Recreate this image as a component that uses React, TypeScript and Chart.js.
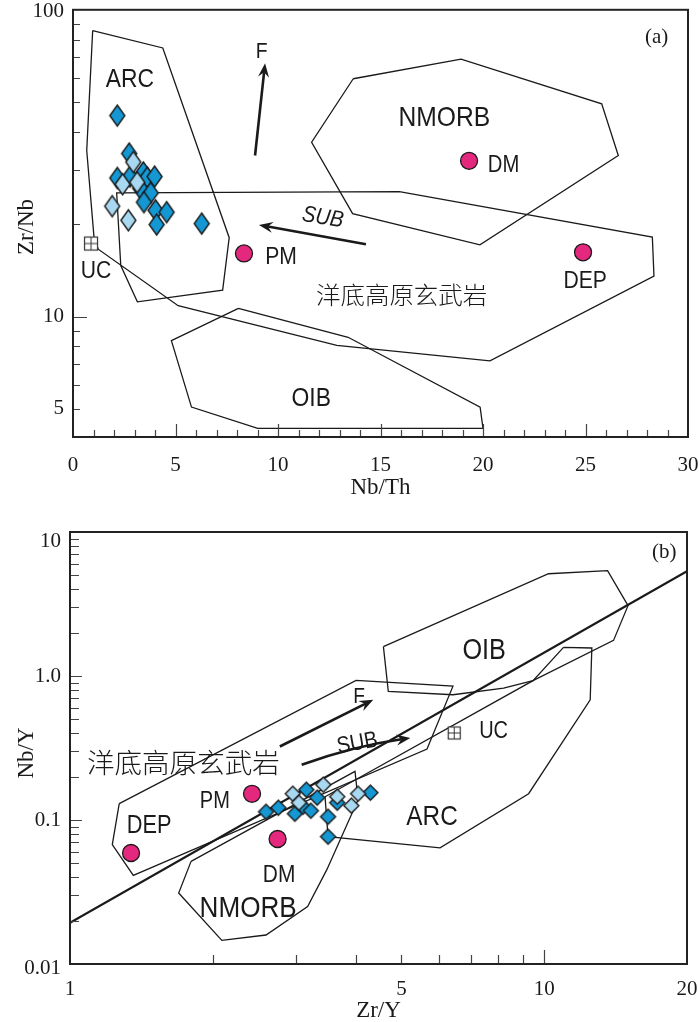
import React, { useEffect, useRef } from 'react';
import { Chart, registerables } from 'chart.js';
Chart.register(...registerables);

// ================= Panel (a): Zr/Nb vs Nb/Th =================
const aXTickLabels = [0, 5, 10, 15, 20, 25, 30];
const aYTickLabels = [5, 10, 100];
const aDarkNbTh = [2.16, 2.74, 2.16, 2.78, 3.43, 3.62, 3.98, 3.28, 3.79, 3.46, 4.03, 4.57, 4.08, 6.28];
const aDarkZrNb = [45.2, 34.0, 28.3, 28.6, 29.5, 28.4, 28.6, 26.2, 25.3, 23.6, 22.2, 21.9, 19.95, 20.1];
const aLightNbTh = [2.94, 2.42, 3.13, 1.91, 2.70];
const aLightZrNb = [31.9, 27.0, 27.4, 22.9, 20.6];
const aRefNbTh = [8.34, 19.32, 24.88]; // PM, DM, DEP
const aRefZrNb = [16.06, 32.2, 16.2];
const aUCNbTh = [0.88];
const aUCZrNb = [17.3];
const aFieldArcPlateau = [
  [0.96, 85.6], [4.38, 75.1], [7.62, 18.08], [7.30, 12.19], [3.14, 11.17], [2.33, 14.66],
  [2.13, 25.3], [15.92, 25.55], [28.26, 18.17], [28.34, 13.55], [20.34, 7.17], [12.87, 8.05],
  [5.13, 10.85], [1.23, 16.58], [1.02, 18.3], [0.67, 34.8],
];
const aFieldNMORB = [
  [13.67, 59.6], [18.93, 69.1], [25.79, 49.4], [26.6, 33.5], [19.85, 17.13], [13.64, 21.65], [11.64, 37.0],
];
const aFieldOIB = [
  [8.07, 10.63], [13.42, 8.56], [19.86, 5.07], [20.0, 4.32], [9.01, 4.32], [5.78, 5.07], [4.8, 8.35],
];
const aArrowF = [[8.88, 33.5], [9.37, 67.0]];
const aArrowSUB = [[14.29, 17.2], [9.07, 19.9]];
const aLabelText = ['ARC', 'F', 'NMORB', 'DM', 'SUB', 'PM', 'UC', 'DEP', 'OIB'];
const aLabelNbTh = [2.78, 9.2, 18.11, 21.0, 12.2, 10.15, 1.12, 24.98, 11.62];
const aLabelZrNb = [60.0, 74.0, 44.96, 31.5, 21.28, 15.83, 14.21, 13.25, 5.48];
const aCnLabel = '洋底高原玄武岩';
const aCnPos = [16.03, 11.74];
const aPanelTag = '(a)';
const aPanelTagPos = [28.47, 81.3];

// ================= Panel (b): Nb/Y vs Zr/Y =================
const bXTickLabels = [1, 5, 10, 20];
const bYTickLabels = ['0.01', '0.1', '1.0', '10'];
const bYTickValues = [0.01, 0.1, 1, 10];
const bDarkZrY = [2.59, 2.75, 2.98, 3.10, 3.15, 3.32, 3.22, 3.50, 3.50, 3.66, 4.30];
const bDarkNbY = [0.114, 0.1217, 0.1106, 0.1237, 0.1623, 0.1429, 0.116, 0.1054, 0.0766, 0.1318, 0.1548];
const bLightZrY = [2.95, 3.04, 3.42, 3.66, 3.92, 4.05];
const bLightNbY = [0.1523, 0.1318, 0.1758, 0.1452, 0.1258, 0.1523];
const bRefZrY = [2.42, 1.345, 2.74]; // PM, DEP, DM
const bRefNbY = [0.152, 0.059, 0.0738];
const bUCZrY = [6.46];
const bUCNbY = [0.402];
const bFieldPlateau = [
  [1.27, 0.1298], [4.01, 0.932], [6.42, 0.85], [5.66, 0.311], [1.36, 0.0412], [1.228, 0.0674],
];
const bFieldOIB = [
  [4.58, 1.598], [10.21, 5.13], [13.6, 5.39], [15.02, 3.08], [14.0, 1.767], [9.47, 0.928],
  [8.21, 0.825], [6.42, 0.741], [4.69, 0.782],
];
const bFieldARC = [
  [10.98, 1.58], [12.6, 1.565], [12.5, 0.684], [9.27, 0.1523], [6.03, 0.064], [3.50, 0.0766],
  [3.45, 0.145], [9.47, 0.928],
];
const bFieldNMORB = [
  [1.80, 0.0516], [3.99, 0.2176], [4.05, 0.1384], [3.48, 0.0452], [3.17, 0.0251], [2.59, 0.0159],
  [2.09, 0.0146], [1.695, 0.0311],
];
const bMantleLine = [[1, 0.0193], [20, 5.35]];
const bArrowF = [[2.77, 0.324], [4.36, 0.684]];
const bArrowSUB = [[3.08, 0.242], [3.99, 0.3126], [5.22, 0.371]];
const bLabelText = ['OIB', 'F', 'SUB', 'UC', 'PM', 'DEP', 'DM', 'ARC', 'NMORB'];
const bLabelZrY = [7.47, 4.07, 4.03, 7.82, 2.02, 1.468, 2.76, 5.80, 2.375];
const bLabelNbY = [1.548, 0.741, 0.35, 0.423, 0.1384, 0.0943, 0.0424, 0.109, 0.0251];
const bCnLabel = '洋底高原玄武岩';
const bCnPos = [1.734, 0.249];
const bPanelTag = '(b)';
const bPanelTagPos = [17.9, 7.18];

// ================= styling =================
const MAG = '#E3287E';
const DARK = '#1497D3';
const LIGHT = '#A9D8F1';
const INK = '#1a1a1a';
const SANS = '"Liberation Sans", Arial, sans-serif';
const SERIF = '"Liberation Serif", "Times New Roman", serif';
const CJK = '"Noto Sans CJK SC", sans-serif';

function makeDiamond(w: number, h: number, fill: string) {
  const c = document.createElement('canvas');
  c.width = w + 4; c.height = h + 4;
  const g = c.getContext('2d')!;
  const cx = c.width / 2, cy = c.height / 2;
  g.beginPath();
  g.moveTo(cx, cy - h / 2); g.lineTo(cx + w / 2, cy); g.lineTo(cx, cy + h / 2); g.lineTo(cx - w / 2, cy);
  g.closePath();
  g.fillStyle = fill; g.fill();
  g.lineWidth = 1.4; g.strokeStyle = INK; g.stroke();
  return c;
}
function makeUC(s: number) {
  const c = document.createElement('canvas');
  c.width = s + 4; c.height = s + 4;
  const g = c.getContext('2d')!;
  const o = 2;
  g.fillStyle = '#fff'; g.fillRect(o, o, s, s);
  g.strokeStyle = '#333'; g.lineWidth = 1.2;
  g.strokeRect(o + 0.5, o + 0.5, s - 1, s - 1);
  g.beginPath();
  g.moveTo(o + s / 2, o); g.lineTo(o + s / 2, o + s);
  g.moveTo(o, o + s / 2); g.lineTo(o + s, o + s / 2);
  g.lineWidth = 1; g.stroke();
  return c;
}

const pts = (xs: number[], ys: number[]) => xs.map((x, i) => ({ x, y: ys[i] }));
const poly = (p: number[][], closed = true) => {
  const d = p.map(([x, y]) => ({ x, y }));
  if (closed) d.push({ x: p[0][0], y: p[0][1] });
  return { data: d, showLine: true, pointRadius: 0, borderColor: INK, borderWidth: 1.3, fill: false, tension: 0, order: 5 };
};

function drawLabel(ctx: CanvasRenderingContext2D, text: string, x: number, y: number, size: number,
  o: { italic?: boolean; rot?: number; sx?: number; family?: string; cjk?: boolean; weight?: string } = {}) {
  ctx.save();
  ctx.translate(x, y);
  if (o.rot) ctx.rotate((o.rot * Math.PI) / 180);
  ctx.scale(o.sx ?? 1, 1);
  ctx.font = `${o.italic ? 'italic ' : ''}${o.weight ?? 'normal'} ${size}px ${o.family ?? SANS}`;
  ctx.fillStyle = INK;
  ctx.textAlign = 'center';
  if (o.cjk) { ctx.textBaseline = 'middle'; ctx.fillText(text, 0, 0); }
  else { ctx.textBaseline = 'alphabetic'; ctx.fillText(text, 0, size * 0.358); }
  ctx.restore();
}

function arrowHead(ctx: CanvasRenderingContext2D, x0: number, y0: number, x1: number, y1: number, len = 14, half = 5.5) {
  const a = Math.atan2(y1 - y0, x1 - x0);
  const c = Math.cos(a), s = Math.sin(a);
  const hx = x1 - c * len, hy = y1 - s * len;
  const nx = x1 - c * len * 0.65, ny = y1 - s * len * 0.65;
  ctx.beginPath();
  ctx.moveTo(x1, y1);
  ctx.lineTo(hx - s * half, hy + c * half);
  ctx.lineTo(nx, ny);
  ctx.lineTo(hx + s * half, hy - c * half);
  ctx.closePath();
  ctx.fill();
  return [nx, ny];
}
function straightArrow(ctx: CanvasRenderingContext2D, p0: number[], p1: number[], lw: number) {
  const [nx, ny] = arrowHead(ctx, p0[0], p0[1], p1[0], p1[1]);
  ctx.beginPath(); ctx.moveTo(p0[0], p0[1]); ctx.lineTo(nx, ny); ctx.lineWidth = lw; ctx.stroke();
}

type Spec = {
  top: number; height: number;
  padding: { left: number; right: number; top: number; bottom: number };
  scales: any;
  datasets: any[];
  decorate: (ctx: CanvasRenderingContext2D, chart: any) => void;
};

function ChartCanvas({ spec }: { spec: () => Spec }) {
  const ref = useRef<HTMLCanvasElement>(null);
  const s = spec();
  useEffect(() => {
    const sp = spec();
    const chart = new Chart(ref.current!, {
      type: 'scatter',
      data: { datasets: sp.datasets },
      options: {
        animation: false,
        responsive: false,
        maintainAspectRatio: false,
        events: [],
        layout: { padding: sp.padding },
        plugins: { legend: { display: false }, tooltip: { enabled: false } },
        scales: sp.scales,
      },
      plugins: [{
        id: 'decor',
        afterDraw(ch: any) {
          const ctx = ch.ctx as CanvasRenderingContext2D;
          ctx.save();
          sp.decorate(ctx, ch);
          ctx.restore();
        },
      }],
    } as any);
    return () => chart.destroy();
  }, []);
  return (
    <canvas ref={ref} width={700} height={s.height}
      style={{ position: 'absolute', left: 0, top: s.top, width: 700, height: s.height }} />
  );
}

function specA(): Spec {
  const darkImg = makeDiamond(15, 21, DARK);
  const lightImg = makeDiamond(15, 21, LIGHT);
  const ucImg = makeUC(14);
  return {
    top: 0, height: 500,
    padding: { left: 73, right: 12, top: 4, bottom: 63 },
    scales: {
      x: { type: 'linear', min: 0, max: 30, display: false },
      y: { type: 'logarithmic', min: 4.05, max: 100, display: false },
    },
    datasets: [
      { data: pts(aRefNbTh, aRefZrNb), pointStyle: 'circle', pointRadius: 8.5, backgroundColor: MAG, borderColor: INK, borderWidth: 1.3, order: 0 },
      { data: pts(aUCNbTh, aUCZrNb), pointStyle: ucImg, pointRadius: 7, order: 0 },
      { data: pts(aLightNbTh, aLightZrNb), pointStyle: lightImg, pointRadius: 8, order: 1 },
      { data: pts(aDarkNbTh, aDarkZrNb), pointStyle: darkImg, pointRadius: 8, order: 2 },
      poly(aFieldArcPlateau), poly(aFieldNMORB), poly(aFieldOIB),
    ],
    decorate(ctx, ch) {
      const xs = ch.scales.x, ys = ch.scales.y, ca = ch.chartArea;
      const P = (p: number[]) => [xs.getPixelForValue(p[0]), ys.getPixelForValue(p[1])];
      ctx.fillStyle = INK; ctx.strokeStyle = INK;
      straightArrow(ctx, P(aArrowF[0]), P(aArrowF[1]), 2.6);
      straightArrow(ctx, P(aArrowSUB[0]), P(aArrowSUB[1]), 2.6);
      // ticks
      ctx.strokeStyle = '#444'; ctx.lineWidth = 1.2;
      ctx.beginPath();
      for (let v = 1; v < 30; v++) {
        const px = Math.round(xs.getPixelForValue(v)) + 0.5;
        const len = v % 5 === 0 ? 13 : 7;
        ctx.moveTo(px, ca.bottom); ctx.lineTo(px, ca.bottom - len);
      }
      [5, 6, 7, 8, 9, 10, 20, 30, 40, 50, 60, 70, 80, 90].forEach((v) => {
        const py = Math.round(ys.getPixelForValue(v)) + 0.5;
        const len = v === 10 ? 14 : 7;
        ctx.moveTo(ca.left, py); ctx.lineTo(ca.left + len, py);
      });
      ctx.stroke();
      // frame
      ctx.strokeStyle = '#222'; ctx.lineWidth = 2;
      ctx.strokeRect(ca.left, ca.top, ca.right - ca.left, ca.bottom - ca.top);
      // tick labels
      ctx.fillStyle = INK;
      ctx.font = `21px ${SERIF}`;
      ctx.textAlign = 'center'; ctx.textBaseline = 'middle';
      aXTickLabels.forEach((v) => ctx.fillText(String(v), xs.getPixelForValue(v), ca.bottom + 28));
      ctx.textAlign = 'right';
      aYTickLabels.forEach((v) => {
        const py = ys.getPixelForValue(v) + (v === 100 ? 2 : 0);
        ctx.fillText(String(v), ca.left - 9, py);
      });
      // axis titles
      ctx.font = `23px ${SERIF}`;
      ctx.textAlign = 'center';
      ctx.fillText('Nb/Th', (ca.left + ca.right) / 2, 488);
      ctx.save(); ctx.translate(27, 227); ctx.rotate(-Math.PI / 2); ctx.fillText('Zr/Nb', 0, 0); ctx.restore();
      // labels
      const sizes = [26, 22, 28, 23, 23, 24, 24, 24, 26];
      aLabelText.forEach((t, i) => {
        const [px, py] = P([aLabelNbTh[i], aLabelZrNb[i]]);
        drawLabel(ctx, t, px, py, sizes[i], { sx: 0.88, italic: t === 'SUB', rot: t === 'SUB' ? 9 : 0 });
      });
      const [cx, cy] = P(aCnPos);
      drawLabel(ctx, aCnLabel, cx, cy, 24, { cjk: true, family: CJK, weight: '300', sx: 1.02 });
      const [tx, ty] = P(aPanelTagPos);
      drawLabel(ctx, aPanelTag, tx, ty, 21, { family: SERIF, cjk: true });
    },
  };
}

function specB(): Spec {
  const darkImg = makeDiamond(15, 15, DARK);
  const lightImg = makeDiamond(15, 15, LIGHT);
  const ucImg = makeUC(13);
  return {
    top: 500, height: 522,
    padding: { left: 70, right: 13, top: 32, bottom: 58 },
    scales: {
      x: { type: 'logarithmic', min: 1, max: 20, display: false },
      y: { type: 'logarithmic', min: 0.01, max: 10, display: false },
    },
    datasets: [
      { data: pts(bRefZrY, bRefNbY), pointStyle: 'circle', pointRadius: 8.5, backgroundColor: MAG, borderColor: INK, borderWidth: 1.3, order: 0 },
      { data: pts(bUCZrY, bUCNbY), pointStyle: ucImg, pointRadius: 7, order: 0 },
      { data: pts(bLightZrY, bLightNbY), pointStyle: lightImg, pointRadius: 8, order: 1 },
      { data: pts(bDarkZrY, bDarkNbY), pointStyle: darkImg, pointRadius: 8, order: 2 },
      poly(bFieldPlateau), poly(bFieldOIB), poly(bFieldARC), poly(bFieldNMORB),
      { ...poly(bMantleLine, false), borderWidth: 2.2 },
    ],
    decorate(ctx, ch) {
      const xs = ch.scales.x, ys = ch.scales.y, ca = ch.chartArea;
      const P = (p: number[]) => [xs.getPixelForValue(p[0]), ys.getPixelForValue(p[1])];
      ctx.fillStyle = INK; ctx.strokeStyle = INK;
      straightArrow(ctx, P(bArrowF[0]), P(bArrowF[1]), 2.6);
      // curved SUB arrow through three points
      const p0 = P(bArrowSUB[0]), pm = P(bArrowSUB[1]), p2 = P(bArrowSUB[2]);
      const c = [2 * pm[0] - (p0[0] + p2[0]) / 2, 2 * pm[1] - (p0[1] + p2[1]) / 2];
      const [nx, ny] = arrowHead(ctx, c[0], c[1], p2[0], p2[1]);
      ctx.beginPath(); ctx.moveTo(p0[0], p0[1]); ctx.quadraticCurveTo(c[0], c[1], nx, ny);
      ctx.lineWidth = 2.6; ctx.stroke();
      // ticks
      ctx.strokeStyle = '#444'; ctx.lineWidth = 1.2;
      ctx.beginPath();
      [2, 3, 4, 5, 6, 7, 8, 9, 10].forEach((v) => {
        const px = Math.round(xs.getPixelForValue(v)) + 0.5;
        const len = v === 10 ? 14 : 9;
        ctx.moveTo(px, ca.bottom); ctx.lineTo(px, ca.bottom - len);
      });
      [0.01, 0.1, 1].forEach((d) => {
        for (let k = 2; k <= 9; k++) {
          const py = Math.round(ys.getPixelForValue(k * d)) + 0.5;
          ctx.moveTo(ca.left, py); ctx.lineTo(ca.left + 9, py);
        }
      });
      [0.1, 1].forEach((v) => {
        const py = Math.round(ys.getPixelForValue(v)) + 0.5;
        ctx.moveTo(ca.left, py); ctx.lineTo(ca.left + 12, py);
      });
      ctx.stroke();
      ctx.strokeStyle = '#222'; ctx.lineWidth = 2;
      ctx.strokeRect(ca.left, ca.top, ca.right - ca.left, ca.bottom - ca.top);
      // tick labels
      ctx.fillStyle = INK;
      ctx.font = `21px ${SERIF}`;
      ctx.textAlign = 'center'; ctx.textBaseline = 'middle';
      bXTickLabels.forEach((v) => ctx.fillText(String(v), xs.getPixelForValue(v), ca.bottom + 25));
      ctx.textAlign = 'right';
      bYTickValues.forEach((v, i) => {
        const off = v === 10 ? 9 : v === 0.01 ? 4 : 0;
        ctx.fillText(bYTickLabels[i], ca.left - 9, ys.getPixelForValue(v) + off);
      });
      ctx.font = `23px ${SERIF}`;
      ctx.textAlign = 'center';
      ctx.fillText('Zr/Y', (ca.left + ca.right) / 2, 511);
      ctx.save(); ctx.translate(27, 253); ctx.rotate(-Math.PI / 2); ctx.fillText('Nb/Y', 0, 0); ctx.restore();
      const sizes = [29, 22, 23, 23, 23, 25, 24, 28, 30];
      bLabelText.forEach((t, i) => {
        const [px, py] = P([bLabelZrY[i], bLabelNbY[i]]);
        drawLabel(ctx, t, px, py, sizes[i], { sx: 0.87, rot: t === 'SUB' ? -10 : 0 });
      });
      const [cx, cy] = P(bCnPos);
      drawLabel(ctx, bCnLabel, cx, cy, 27, { cjk: true, family: CJK, weight: '300', sx: 1.02 });
      const [tx, ty] = P(bPanelTagPos);
      drawLabel(ctx, bPanelTag, tx, ty, 21, { family: SERIF, cjk: true });
    },
  };
}

export default function App() {
  return (
    <div style={{ position: 'absolute', left: 0, top: 0, width: 700, height: 1022, background: '#fff' }}>
      <ChartCanvas spec={specA} />
      <ChartCanvas spec={specB} />
    </div>
  );
}
